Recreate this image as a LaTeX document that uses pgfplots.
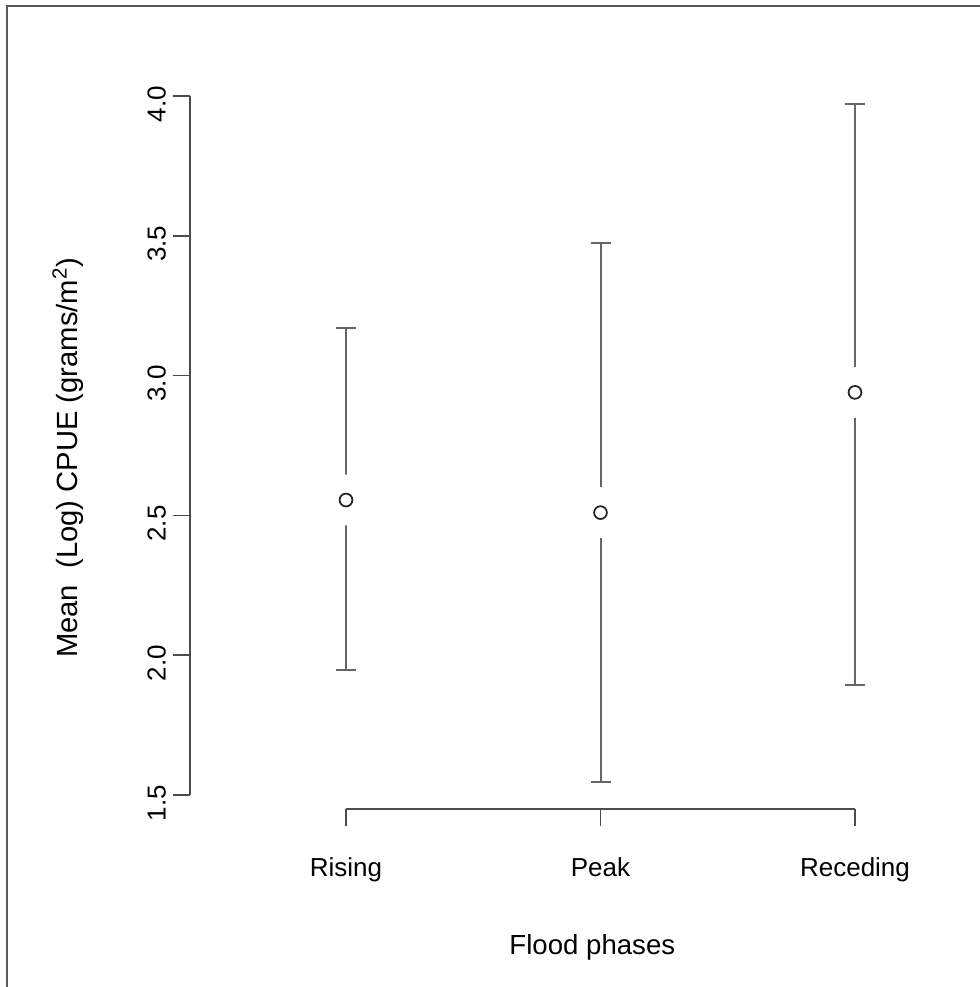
\documentclass[border=0pt]{standalone}
\usepackage{pgfplots}
\pgfplotsset{compat=1.18}
\usepackage{fontspec}
\setmainfont{Liberation Sans}
\begin{document}
\begin{tikzpicture}[x=1pt,y=1pt]
\path[use as bounding box] (-95,-89) rectangle (395,404.5);
\draw[line width=1.2pt, color=black!65] (-91.5,-89) -- (-91.5,401.5) -- (395,401.5);
\begin{axis}[
  at={(0,0)}, anchor=south west, scale only axis,
  width=381.75pt, height=363.5pt,
  xmin=0.387, xmax=3.387, ymin=1.45, ymax=4.05,
  axis line style={draw=none},
  clip=false,
  font=\fontsize{13}{15}\selectfont,
  xtick={1,2,3}, xticklabels={Rising,Peak,Receding},
  ytick={1.5,2,2.5,3,3.5,4},
  yticklabels={1.5,2.0,2.5,3.0,3.5,4.0},
  tick align=outside, xtick pos=bottom, ytick pos=left,
  major tick length=8.5pt,
  tick style={color=black!70, line width=0.8pt},
  xticklabel style={anchor=base, yshift=-25pt},
  yticklabel style={rotate=90, anchor=south, xshift=-4pt},
  xlabel={Flood phases},
  ylabel={Mean\ \ (Log) CPUE (grams/m\textsuperscript{2})},
  xlabel style={font=\fontsize{13.8}{16}\selectfont, at={(axis description cs:0.527,0)}, anchor=base, yshift=-72.5pt},
  ylabel style={font=\fontsize{14.6}{17}\selectfont, at={(axis description cs:-0.16,0.483)}, anchor=center},
]
\draw[black!70, line width=0.8pt] (axis cs:0.387,1.5) -- (axis cs:0.387,4.0);
\draw[black!70, line width=0.8pt] (axis cs:1,1.45) -- (axis cs:3,1.45);
\addplot[only marks, mark=none, black!60,
  error bars/.cd, y dir=both, y explicit,
  error bar style={color=black!60, line width=1pt},
  error mark options={color=black!60, line width=1pt, mark size=5pt, rotate=90}]
  coordinates {
  (1,2.555) += (0,0.615) -= (0,0.608)
  (2,2.510) += (0,0.964) -= (0,0.964)
  (3,2.940) += (0,1.030) -= (0,1.047)
  };
\addplot[only marks, white, mark=*, mark size=12.5pt, mark options={draw=white, fill=white}]
  coordinates {(1,2.555) (2,2.510) (3,2.940)};
\addplot[only marks, mark=o, mark size=3.2pt, black!85, mark options={line width=0.9pt}]
  coordinates {(1,2.555) (2,2.510) (3,2.940)};
\end{axis}
\end{tikzpicture}
\end{document}
